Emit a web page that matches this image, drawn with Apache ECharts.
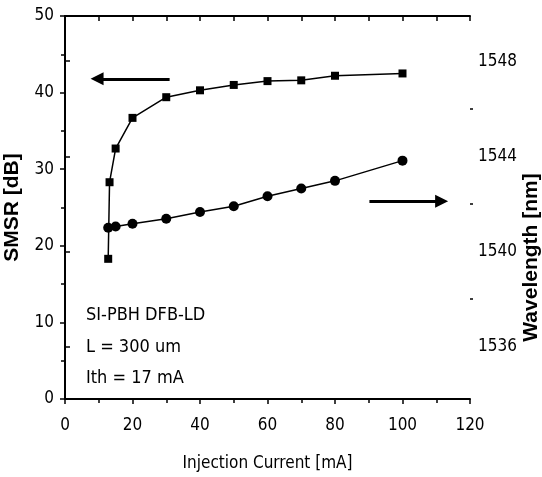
<!DOCTYPE html>
<html>
<head>
<meta charset="utf-8">
<script src="https://cdn.jsdelivr.net/npm/echarts@6/dist/echarts.min.js"></script>
<style>
  html, body { margin: 0; padding: 0; background: #fff; }
  #chart { width: 542px; height: 477px; }
</style>
</head>
<body>
<div id="chart"></div>
<script>
// SMSR curve (left axis)
const currentSmsr = [12.8, 13.2, 15, 20, 30, 40, 50, 60, 70, 80, 100];
const smsr = [18.3, 28.3, 32.7, 36.7, 39.4, 40.3, 41.0, 41.5, 41.6, 42.2, 42.5];

// wavelength curve (right axis)
const currentWl = [12.8, 15, 20, 30, 40, 50, 60, 70, 80, 100];
const wavelength = [1541.0, 1541.05, 1541.17, 1541.38, 1541.66, 1541.9, 1542.32, 1542.65, 1542.97, 1543.82];

const wlMajorTicks = [1536, 1540, 1544, 1548];
const wlMinorTicks = [1538, 1542, 1546];

// arrows pointing at the axis each curve belongs to
const arrowLeft = [[31.0, 41.8], [9.5, 41.8]];
const arrowRight = [[90.2, 25.8], [111.6, 25.8]];

const annotation = ['SI-PBH DFB-LD', 'L = 300 um', 'Ith = 17 mA'];

const narrow = '"DejaVu Sans Condensed", "Liberation Sans Narrow", sans-serif';
const bold = '"Liberation Sans", Arial, sans-serif';

const chart = echarts.init(document.getElementById('chart'));

const axisLine = { show: true, lineStyle: { color: '#000', width: 2 } };
const tickStyle = { color: '#000', width: 1.5 };

chart.setOption({
  animation: false,
  grid: { left: 65, right: 72, top: 16, bottom: 78, outerBoundsMode: 'none', containLabel: false },
  xAxis: [
    {
      type: 'value', position: 'bottom', min: 0, max: 120, interval: 20,
      axisLine,
      axisTick: { show: true, inside: false, length: 5, lineStyle: tickStyle },
      minorTick: { show: true, splitNumber: 2, length: 4, lineStyle: tickStyle },
      axisLabel: { color: '#000', fontFamily: narrow, fontSize: 17, margin: 18 },
      splitLine: { show: false },
      name: 'Injection Current [mA]', nameLocation: 'middle', nameGap: 56, nameMoveOverlap: false,
      nameTextStyle: { color: '#000', fontFamily: narrow, fontSize: 17 }
    },
    {
      type: 'value', position: 'top', min: 0, max: 120, interval: 10,
      axisLine,
      axisTick: { show: true, inside: true, length: 5, lineStyle: tickStyle },
      axisLabel: { show: false },
      splitLine: { show: false }
    }
  ],
  yAxis: [
    {
      type: 'value', position: 'left', min: 0, max: 50, interval: 10,
      axisLine,
      axisTick: { show: true, inside: false, length: 5, lineStyle: tickStyle },
      minorTick: { show: true, splitNumber: 2, length: 4, lineStyle: tickStyle },
      axisLabel: { color: '#000', fontFamily: narrow, fontSize: 17, margin: 11 },
      splitLine: { show: false },
      name: 'SMSR [dB]', nameLocation: 'middle', nameGap: 42, nameRotate: 90, nameMoveOverlap: false,
      nameTextStyle: { color: '#000', fontFamily: bold, fontWeight: 'bold', fontSize: 21 }
    },
    {
      type: 'value', position: 'right', min: 1533.8, max: 1549.9,
      axisLine,
      axisTick: { show: true, inside: false, length: 5, customValues: wlMajorTicks, lineStyle: tickStyle },
      axisLabel: {
        color: '#000', fontFamily: narrow, fontSize: 17, margin: 8,
        customValues: wlMajorTicks, formatter: v => String(v)
      },
      splitLine: { show: false },
      name: 'Wavelength [nm]', nameLocation: 'middle', nameGap: 51, nameRotate: 90, nameMoveOverlap: false,
      nameTextStyle: {
        color: '#000', fontFamily: bold, fontWeight: 'bold', fontSize: 21,
        padding: [0, 100, 0, 0]
      }
    },
    {
      type: 'value', position: 'right', min: 1533.8, max: 1549.9,
      axisLine: { show: false },
      axisTick: { show: true, inside: false, length: 3, customValues: wlMinorTicks, lineStyle: tickStyle },
      axisLabel: { show: false },
      splitLine: { show: false }
    }
  ],
  graphic: [
    {
      type: 'text', left: 86, top: 300,
      style: {
        text: annotation.join('\n'),
        font: '18px ' + narrow,
        lineHeight: 31.5,
        fill: '#000'
      }
    }
  ],
  series: [
    {
      name: 'SMSR', type: 'line', xAxisIndex: 0, yAxisIndex: 0,
      data: currentSmsr.map((x, i) => [x, smsr[i]]),
      symbol: 'rect', symbolSize: 8,
      itemStyle: { color: '#000' },
      lineStyle: { color: '#000', width: 1.5 },
      markLine: {
        silent: true,
        symbol: ['none', 'triangle'],
        symbolSize: 13,
        label: { show: false },
        lineStyle: { color: '#000', width: 3, type: 'solid' },
        data: [
          [{ coord: arrowLeft[0] }, { coord: arrowLeft[1] }],
          [{ coord: arrowRight[0] }, { coord: arrowRight[1] }]
        ]
      }
    },
    {
      name: 'Wavelength', type: 'line', xAxisIndex: 0, yAxisIndex: 1,
      data: currentWl.map((x, i) => [x, wavelength[i]]),
      symbol: 'circle', symbolSize: 10,
      itemStyle: { color: '#000' },
      lineStyle: { color: '#000', width: 1.5 }
    }
  ]
});
</script>
</body>
</html>
